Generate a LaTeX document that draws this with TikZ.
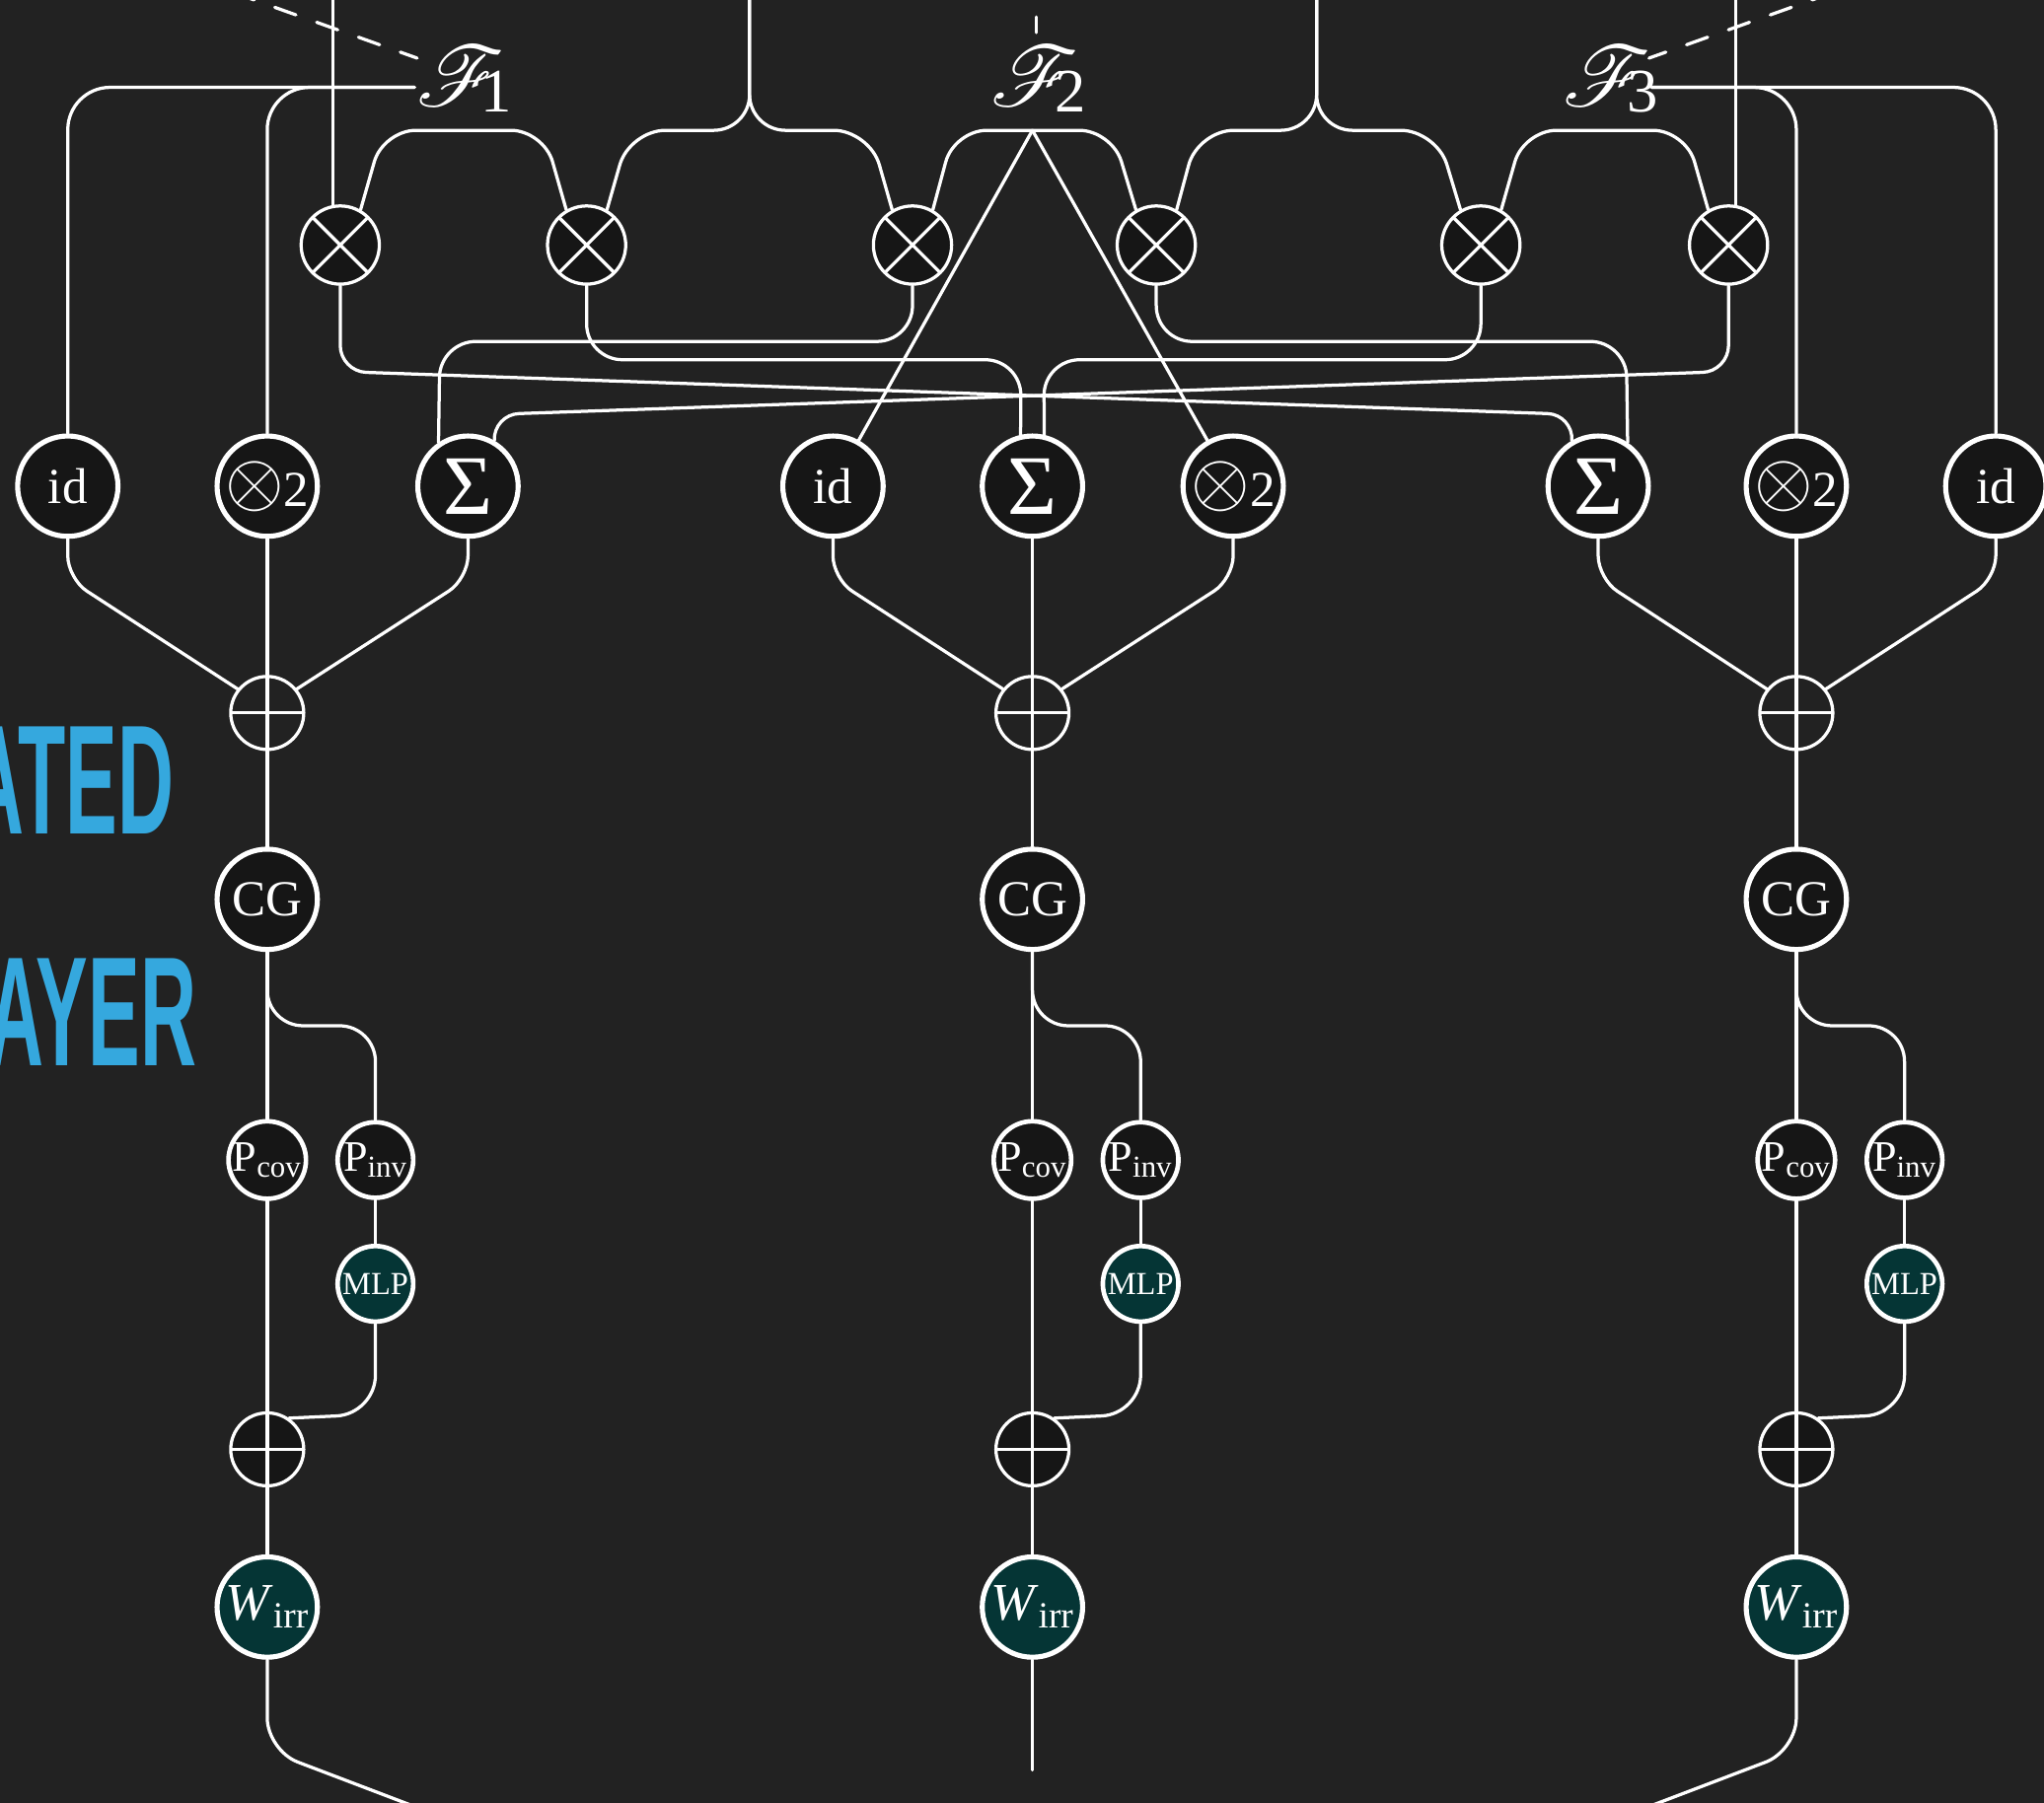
\RequirePackage{fix-cm}
\documentclass[tikz,border=0pt]{standalone}
\usepackage{fontspec}
\setmainfont{Liberation Serif}
\newfontfamily\headfont{Liberation Sans}
\usepackage{mathrsfs}
\usepackage{graphicx}

\definecolor{bgcol}{HTML}{222222}
\definecolor{nodecol}{HTML}{161616}
\definecolor{tealcol}{HTML}{053535}
\definecolor{headcol}{HTML}{35A8DE}

\newcommand{\filt}[1]{{\fontsize{24.88}{25}\selectfont\scalebox{1.5}{$\mathscr{F}$}}\kern-10.5pt{\fontsize{27}{27}\selectfont\raisebox{-2.8pt}{#1}}}
\newcommand{\sqlabel}{\raisebox{0.5pt}{\scalebox{1.5}{$\otimes$}}2}
\newcommand{\sumlabel}{{\fontsize{37}{37}\selectfont Σ}}

\tikzset{
  wire/.style={white, line width=1.4pt, line cap=round, rounded corners=0.55cm},
  dashwire/.style={wire, dash pattern=on 9.8pt off 9.6pt},
  opnode/.style={circle, draw=white, line width=2.2pt, fill=nodecol, text=white,
    inner sep=0pt, minimum size=1.54cm, font=\fontsize{22}{22}\selectfont},
  projnode/.style={opnode, line width=2pt, minimum size=1.16cm, font=\fontsize{19}{19}\selectfont},
  mlpnode/.style={projnode, fill=tealcol, font=\fontsize{14}{14}\selectfont},
  wnode/.style={opnode, fill=tealcol, font=\fontsize{23}{23}\selectfont},
  timesnode/.style={circle, draw=white, line width=1.4pt, fill=nodecol, inner sep=0pt, minimum size=1.2cm,
    path picture={\draw[white, line width=1.4pt]
      (path picture bounding box.north west) -- (path picture bounding box.south east)
      (path picture bounding box.north east) -- (path picture bounding box.south west);}},
  plusnode/.style={circle, draw=white, line width=1.4pt, inner sep=0pt, minimum size=1.12cm,
    path picture={\draw[white, line width=1.4pt]
      (path picture bounding box.north) -- (path picture bounding box.south)
      (path picture bounding box.west) -- (path picture bounding box.east);}},
  flabel/.style={text=white, inner sep=0pt, anchor=base west},
  headtext/.style={text=headcol, inner sep=0pt, anchor=base east,
    font=\headfont\bfseries\fontsize{68}{68}\selectfont},
}

\begin{document}
\begin{tikzpicture}[x=0.02cm,y=-0.02cm]
\useasboundingbox (0,0) rectangle (1568,1383);
\clip (0,0) rectangle (1568,1383);
\fill[bgcol] (0,0) rectangle (1568,1383);
\coordinate (top) at (0,-5);

% headline fragments at the left edge
\node[headtext] (ated) at (134,640) {\scalebox{0.5}[1]{ATED}};
\node[headtext] (ayer) at (151,818) {\scalebox{0.5}[1]{AYER}};

% tensor products
\foreach \n/\x in {1/261,2/450,3/700,4/887,5/1136,6/1326}
  \node[timesnode] (tp\n) at (\x,188) {};

% filters
\node[flabel] (f1) at (319,81) {\filt{1}};
\node[flabel] (f2) at (760,81) {\filt{2}};
\node[flabel] (f3) at (1199,81) {\filt{3}};
\coordinate (f1w) at (318,67);
\coordinate (f2s) at (792,100);
\coordinate (f3e) at (1267,67);

% second row
\node[opnode] (id1) at (52,373) {id};
\node[opnode] (sq1) at (205,373) {\sqlabel};
\node[opnode] (sum1) at (359,373) {\sumlabel};
\node[opnode] (id2) at (639,373) {id};
\node[opnode] (sum2) at (792,373) {\sumlabel};
\node[opnode] (sq2) at (946,373) {\sqlabel};
\node[opnode] (sum3) at (1226,373) {\sumlabel};
\node[opnode] (sq3) at (1378,373) {\sqlabel};
\node[opnode] (id3) at (1531,373) {id};

% the three output columns
\foreach \c/\x in {1/205,2/792,3/1378} {
  \node[plusnode] (plus\c) at (\x,547) {};
  \node[opnode] (cg\c) at (\x,690) {CG};
  \node[projnode] (pcov\c) at (\x,890) {P$_{\mathrm{cov}}$};
  \node[projnode] (pinv\c) at (\x+83,890) {P$_{\mathrm{inv}}$};
  \node[mlpnode] (mlp\c) at (\x+83,985) {MLP};
  \node[plusnode, fill=nodecol] (res\c) at (\x,1112) {};
  \node[wnode] (wirr\c) at (\x,1233) {\textit{W}$_{\mathrm{irr}}$};
  \draw[wire] (plus\c) -- (cg\c);
  \draw[wire] (cg\c) -- (pcov\c);
  \draw[wire, rounded corners=0.55cm] (cg\c.south) -- (\x,787) -- (\x+83,787) -- (pinv\c.north);
  \draw[wire] (pcov\c) -- (res\c);
  \draw[wire] (pinv\c) -- (mlp\c);
  \draw[wire, rounded corners=0.6cm] (mlp\c.south) -- (\x+83,1085) -- (res\c.55);
  \draw[wire] (res\c) -- (wirr\c);
}

% filter 1
\draw[wire, rounded corners=0.65cm] (f1w) -| (id1.north);
\draw[wire, rounded corners=0.65cm] (f1w) -| (sq1.north);
\draw[dashwire, dash phase=2pt] (320,44.6) -- (167,-10);
\draw[wire, rounded corners=0.5cm] (tp1.60) -- (294,100) -- (417,100) -- (tp2.120);
\draw[wire] (tp1.100) -- (tp1.100 |- top);

% first input split
\draw[wire] (575,-5) -- (575,100) -- (483,100) -- (tp2.60);
\draw[wire] (575,-5) -- (575,100) -- (667,100) -- (tp3.120);

% filter 2
\draw[wire, rounded corners=0.5cm] (tp3.60) -- (732,100) -- (853,100) -- (tp4.120);
\draw[wire] (f2s) -- (id2);
\draw[wire] (f2s) -- (sq2);
\draw[dashwire, dash phase=3pt] (795,25) -- (795,-10);

% second input split
\draw[wire] (1010,-5) -- (1010,100) -- (919,100) -- (tp4.60);
\draw[wire] (1010,-5) -- (1010,100) -- (1102,100) -- (tp5.120);

% filter 3
\draw[wire, rounded corners=0.5cm] (tp5.60) -- (1169,100) -- (1293,100) -- (tp6.120);
\draw[wire] (tp6.80) -- (tp6.80 |- top);
\draw[wire, rounded corners=0.65cm] (f3e) -| (sq3.north);
\draw[wire, rounded corners=0.65cm] (f3e) -| (id3.north);
\draw[dashwire, dash phase=2pt] (1265,44.6) -- (1418,-10);

% tensor products into the sums
\draw[wire, rounded corners=0.4cm] (tp1.south) -- (261,285) -- (1207,318) -- (sum3.120);
\draw[wire] (tp2.south) -- (450,276) -- (783.3,276) -- (sum2.103);
\draw[wire] (tp3.south) -- (700,262) -- (337.5,262) -- (sum1.124);
\draw[wire] (tp4.south) -- (887,262) -- (1247.5,262) -- (sum3.56);
\draw[wire] (tp5.south) -- (1136,276) -- (800.7,276) -- (sum2.77);
\draw[wire, rounded corners=0.4cm] (tp6.south) -- (1326,285) -- (378.3,318) -- (sum1.60);

% second row into the first additions
\draw[wire, rounded corners=0.35cm] (id1.south) -- (52,444) -- (plus1.141);
\draw[wire] (sq1) -- (plus1);
\draw[wire, rounded corners=0.35cm] (sum1.south) -- (359,444) -- (plus1.39);
\draw[wire, rounded corners=0.35cm] (id2.south) -- (639,444) -- (plus2.141);
\draw[wire] (sum2) -- (plus2);
\draw[wire, rounded corners=0.35cm] (sq2.south) -- (946,444) -- (plus2.39);
\draw[wire, rounded corners=0.35cm] (sum3.south) -- (1226,444) -- (plus3.141);
\draw[wire] (sq3) -- (plus3);
\draw[wire, rounded corners=0.35cm] (id3.south) -- (1531,444) -- (plus3.39);

% outputs
\draw[wire, rounded corners=0.5cm] (wirr1.south) -- (205,1343) -- (318,1386);
\draw[wire] (wirr2.south) -- (792,1358);
\draw[wire, rounded corners=0.5cm] (wirr3.south) -- (1378,1343) -- (1265,1386);
\end{tikzpicture}
\end{document}
